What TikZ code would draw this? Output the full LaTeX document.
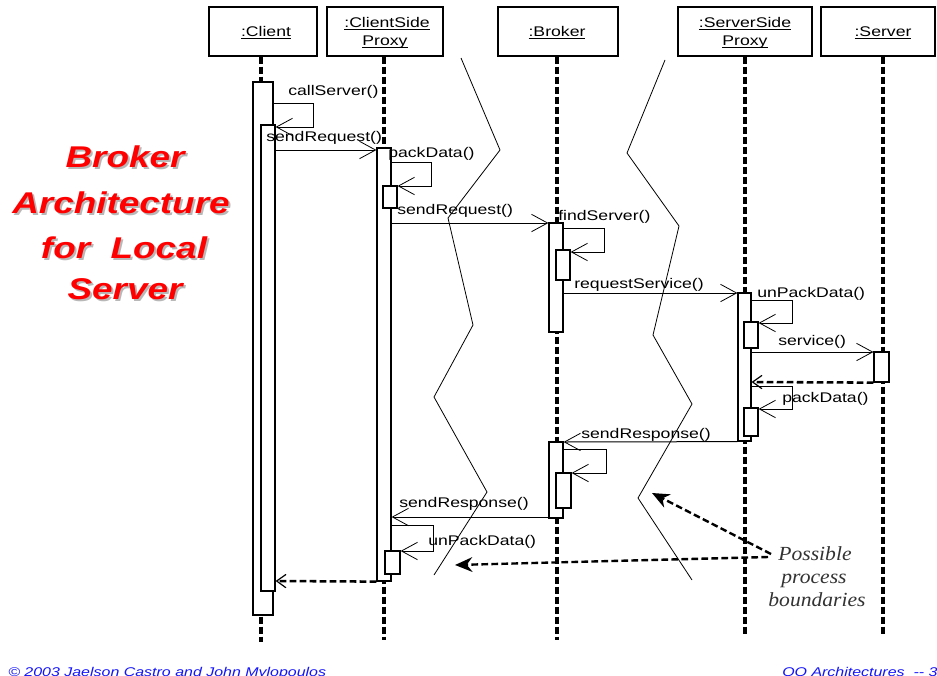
\documentclass[tikz,border=0pt]{standalone}
\usepackage{fontspec}
\usetikzlibrary{arrows.meta,fit}
\newfontfamily\lblfont[FakeStretch=1.26]{Liberation Sans}
\newfontfamily\ttlfont[FakeStretch=1.23]{Liberation Sans}
\newfontfamily\serfont[FakeStretch=1.08]{Liberation Serif}
\newcommand\ulx[1]{\setbox0=\hbox{#1}\rlap{\copy0}\rule[-2.6pt]{\wd0}{1.3pt}}
\definecolor{footblue}{RGB}{20,20,250}
\tikzset{
  act/.style={draw, fill=white, line width=0.9pt, inner sep=0pt},
  hdr/.style={draw, line width=0.9pt, inner sep=0pt},
  life/.style={line width=2.4pt, dash pattern=on 5.5pt off 2pt},
  msg/.style={line width=0.75pt, -{Straight Barb[length=12pt,width=13pt,line width=0.6pt]}},
  ret/.style={line width=1.9pt, dash pattern=on 5pt off 2.5pt, -{Straight Barb[length=7pt,width=10pt,line width=0.9pt]}},
  lbl/.style={inner sep=0pt, anchor=base west, font=\lblfont\fontsize{10.5}{12}\selectfont},
  htxt/.style={inner sep=0pt, anchor=base, font=\lblfont\fontsize{10.5}{12}\selectfont},
  zig/.style={line width=0.6pt},
  bnd/.style={line width=1.8pt, dash pattern=on 5pt off 2.5pt, -{Stealth[length=13pt,width=11pt]}},
  ttl/.style={inner sep=0pt, anchor=base, font=\ttlfont\bfseries\itshape\fontsize{22.5}{27}\selectfont},
  sertxt/.style={inner sep=0pt, anchor=base, text=black!80, font=\serfont\itshape\fontsize{15}{17}\selectfont},
  foot/.style={inner sep=0pt, anchor=base west, text=footblue, font=\lblfont\itshape\fontsize{9.5}{11}\selectfont}
}
\begin{document}
\begin{tikzpicture}[x=0.75pt,y=-0.75pt]
\useasboundingbox (0,0) rectangle (937,675);
\clip (0,0) rectangle (937,675);
\fill[white] (0,0) rectangle (937,675);

% header boxes
\node[hdr, fit={(209,7) (317,56)}] (h1) {};
\node[hdr, fit={(327,7) (443,56)}] (h2) {};
\node[hdr, fit={(498,7) (618,56)}] (h3) {};
\node[hdr, fit={(678,7) (812,56)}] (h4) {};
\node[hdr, fit={(821,7) (935,56)}] (h5) {};
\node[htxt] (t1) at (266,36) {\ulx{:Client}};
\node[htxt] (t2a) at (387,27) {\ulx{:ClientSide}};
\node[htxt] (t2b) at (385,45) {\ulx{Proxy}};
\node[htxt] (t3) at (557,36) {\ulx{:Broker}};
\node[htxt] (t4a) at (745,27) {\ulx{:ServerSide}};
\node[htxt] (t4b) at (745,45) {\ulx{Proxy}};
\node[htxt] (t5) at (883,36) {\ulx{:Server}};

% lifelines
\coordinate (e1) at (261,642);
\coordinate (e2) at (384,640);
\coordinate (e3) at (557,640);
\coordinate (e4) at (745,634);
\coordinate (e5) at (883,634);
\draw[life] (h1.south -| e1) -- (e1);
\draw[life] (h2.south -| e2) -- (e2);
\draw[life] (h3.south -| e3) -- (e3);
\draw[life] (h4.south -| e4) -- (e4);
\draw[life] (h5.south -| e5) -- (e5);

% process boundaries (zigzags)
\draw[zig] (461,58) -- (500,150) -- (448,218) -- (473,325) -- (434,397) -- (487,492) -- (434,575);
\draw[zig] (665,60) -- (627,153) -- (679,226) -- (653,335) -- (692,404) -- (638,498) -- (692,580);

% activations
\node[act, fit={(253,82) (273,615)}] (co) {};
\node[act, fit={(261,125) (275,591)}] (ci) {};
\node[act, fit={(377,148) (391,581)}] (cp) {};
\node[act, fit={(383,186) (397,208)}] (cp1) {};
\node[act, fit={(385,551) (400,574)}] (cp2) {};
\node[act, fit={(549,223) (563,332)}] (b1) {};
\node[act, fit={(556,250) (570,280)}] (b1s) {};
\node[act, fit={(549,442) (563,518)}] (b2) {};
\node[act, fit={(556,473) (571,508)}] (b2s) {};
\node[act, fit={(738,293) (751,441)}] (sp) {};
\node[act, fit={(744,322) (758,348)}] (sp1) {};
\node[act, fit={(744,408) (758,436)}] (sp2) {};
\node[act, fit={(874,352) (889,382)}] (sv) {};

% messages
\draw[msg] (co.east |- 0,103) -- (313,103) -- (313,127) -- (ci.east |- 0,127);
\draw[msg] (ci.east |- 0,150) -- (cp.west |- 0,150);
\draw[msg] (cp.east |- 0,162) -- (431,162) -- (431,186) -- (cp1.east |- 0,186);
\draw[msg] (cp.east |- 0,223) -- (b1.west |- 0,223);
\draw[msg] (b1.east |- 0,228) -- (604,228) -- (604,252) -- (b1s.east |- 0,252);
\draw[msg] (b1.east |- 0,293) -- (sp.west |- 0,293);
\draw[msg] (sp.east |- 0,300) -- (792,300) -- (792,323) -- (sp1.east |- 0,323);
\draw[msg] (sp.east |- 0,352) -- (sv.west |- 0,352);
\draw[ret] (sv.south west) -- (sp.east |- 0,382);
\draw[msg] (sp.east |- 0,386) -- (792,386) -- (792,409) -- (sp2.east |- 0,409);
\draw[msg] (sp.south west) -- (b2.east |- 0,442);
\draw[msg] (b2.east |- 0,449) -- (606,449) -- (606,473) -- (b2s.east |- 0,473);
\draw[msg] (b2.west |- 0,517) -- (cp.east |- 0,517);
\draw[msg] (cp.east |- 0,525) -- (433,525) -- (433,551) -- (cp2.east |- 0,551);
\draw[ret] (cp.south west) -- (ci.east |- 0,581);

% message labels
\node[lbl] (m1) at (288,95) {callServer()};
\node[lbl] (m2) at (266,141) {sendRequest()};
\node[lbl] (m3) at (388,157) {packData()};
\node[lbl] (m4) at (397,214) {sendRequest()};
\node[lbl] (m5) at (558,220) {findServer()};
\node[lbl] (m6) at (574,288) {requestService()};
\node[lbl] (m7) at (757,297) {unPackData()};
\node[lbl] (m8) at (778,345) {service()};
\node[lbl] (m9) at (782,402) {packData()};
\node[lbl] (m10) at (581,438) {sendResponse()};
\node[lbl] (m11) at (399,507) {sendResponse()};
\node[lbl] (m12) at (428,545) {unPackData()};

% possible process boundaries
\node[sertxt] (pb1) at (815,560) {Possible};
\node[sertxt] (pb2) at (814,583) {process};
\node[sertxt] (pb3) at (817,606) {boundaries};
\coordinate (ps1) at (771,554);
\coordinate (ps2) at (768,557);
\coordinate (tipA) at (652,493);
\coordinate (tipB) at (455,565);
\draw[bnd] (ps1) -- (tipA);
\draw[bnd] (ps2) -- (tipB);

% title
\node[ttl, text=black!28] at (127,169) {Broker};
\node[ttl, text=red] (ttl1) at (125,167) {Broker};
\node[ttl, text=black!28] at (123,215) {Architecture};
\node[ttl, text=red] (ttl2) at (121,213) {Architecture};
\node[ttl, text=black!28] at (126,260) {for\ \ Local};
\node[ttl, text=red] (ttl3) at (124,258) {for\ \ Local};
\node[ttl, text=black!28] at (127,301) {Server};
\node[ttl, text=red] (ttl4) at (125,299) {Server};

% footer
\node[foot] (f1) at (8,676) {© 2003 Jaelson Castro and John Mylopoulos};
\node[foot] (f2) at (782,676) {OO Architectures\ \ {-}{-} 3};
\end{tikzpicture}
\end{document}
